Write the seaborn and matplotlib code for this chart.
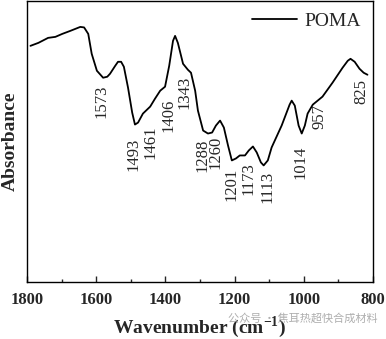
import matplotlib
matplotlib.use("Agg")
import matplotlib.pyplot as plt
from matplotlib.ticker import MultipleLocator
import numpy as np
import pandas as pd
import seaborn as sns

# FTIR spectrum of POMA
wavenumber = [1790, 1767, 1739, 1718, 1698, 1675, 1646, 1635, 1623, 1613, 1598,
              1580, 1568, 1560, 1545, 1537, 1528, 1520, 1508, 1496, 1488, 1479,
              1465, 1444, 1430, 1415, 1401, 1389, 1378, 1372, 1364, 1349, 1335,
              1326, 1314, 1306, 1291, 1277, 1265, 1254, 1242, 1231, 1219, 1208,
              1196, 1185, 1170, 1159, 1147, 1136, 1124, 1116, 1104, 1093, 1064,
              1041, 1035, 1026, 1015, 1006, 997, 989, 974, 960, 946, 917, 888,
              873, 865, 853, 839, 827, 816]
absorbance = [2.37, 2.40, 2.45, 2.46, 2.49, 2.52, 2.56, 2.555, 2.49, 2.29, 2.12,
              2.05, 2.06, 2.09, 2.17, 2.21, 2.21, 2.16, 1.95, 1.70, 1.58, 1.60,
              1.69, 1.76, 1.84, 1.92, 1.96, 2.17, 2.42, 2.47, 2.40, 2.19, 2.13,
              2.10, 1.92, 1.72, 1.52, 1.49, 1.50, 1.57, 1.62, 1.55, 1.37, 1.22,
              1.24, 1.27, 1.27, 1.32, 1.36, 1.30, 1.20, 1.17, 1.22, 1.35, 1.57,
              1.78, 1.82, 1.77, 1.57, 1.49, 1.57, 1.69, 1.78, 1.82, 1.86, 2.00,
              2.15, 2.22, 2.24, 2.21, 2.14, 2.10, 2.08]

peak_labels = ["1573", "1493", "1461", "1406", "1343", "1288", "1260",
               "1201", "1173", "1113", "1014", "957", "825"]
label_x = [1586, 1491, 1444, 1390, 1346, 1294, 1254, 1208, 1161, 1104, 1009, 954, 833]
label_top = [1.98, 1.45, 1.57, 1.84, 2.07, 1.44, 1.47, 1.15, 1.20, 1.12, 1.37, 1.79, 2.04]

x_ticks = [1800, 1600, 1400, 1200, 1000, 800]

df = pd.DataFrame({"Wavenumber": wavenumber, "Absorbance": absorbance, "Sample": "POMA"})

sns.set_style("white")
plt.rcParams["font.family"] = ["Liberation Serif", "DejaVu Serif"]
plt.rcParams["mathtext.fontset"] = "custom"
plt.rcParams["mathtext.rm"] = "Liberation Serif"
plt.rcParams["mathtext.bf"] = "Liberation Serif:bold"

fig = plt.figure(figsize=(3.86, 3.39), dpi=100)
ax = fig.add_axes([27 / 386, 57 / 339, 346 / 386, 281 / 339])

sns.lineplot(data=df, x="Wavenumber", y="Absorbance", hue="Sample",
             palette=["black"], linewidth=1.3, ax=ax, legend=True)

ax.set_xlim(1800, 800)
ax.set_ylim(0, 2.82)
ax.set_xticks(x_ticks)
ax.xaxis.set_minor_locator(MultipleLocator(100))
ax.set_yticks([])
ax.tick_params(axis="x", which="major", direction="in", length=4, width=1,
               pad=7, labelsize=12, bottom=True, top=False)
ax.tick_params(axis="x", which="minor", direction="in", length=2.5, width=1,
               bottom=True, top=False)
for lbl in ax.get_xticklabels():
    lbl.set_fontweight("bold")
for sp in ax.spines.values():
    sp.set_linewidth(1.0)
    sp.set_color("black")

ax.set_xlabel(r"Wavenumber (cm$^{\mathbf{-1}}$)", fontsize=14, fontweight="bold", labelpad=5)
ax.set_ylabel("Absorbance", fontsize=14, fontweight="bold", labelpad=6)

for txt, lx, ly in zip(peak_labels, label_x, label_top):
    ax.text(lx, ly, txt, rotation=90, ha="center", va="top", fontsize=12)

leg = ax.legend(loc="upper right", frameon=False, fontsize=14, handlelength=2.3,
                handletextpad=0.4, borderaxespad=0.2, bbox_to_anchor=(1.0, 1.0))
leg.set_title(None)

fig.text(0.59, 0.062, "公众号 · 焦耳热超快合成材料", fontsize=8, color="#9a9a9a",
         alpha=0.8, family=["Noto Sans CJK SC", "DejaVu Sans"], ha="left", va="center")

fig.savefig("out.png", dpi=100)
